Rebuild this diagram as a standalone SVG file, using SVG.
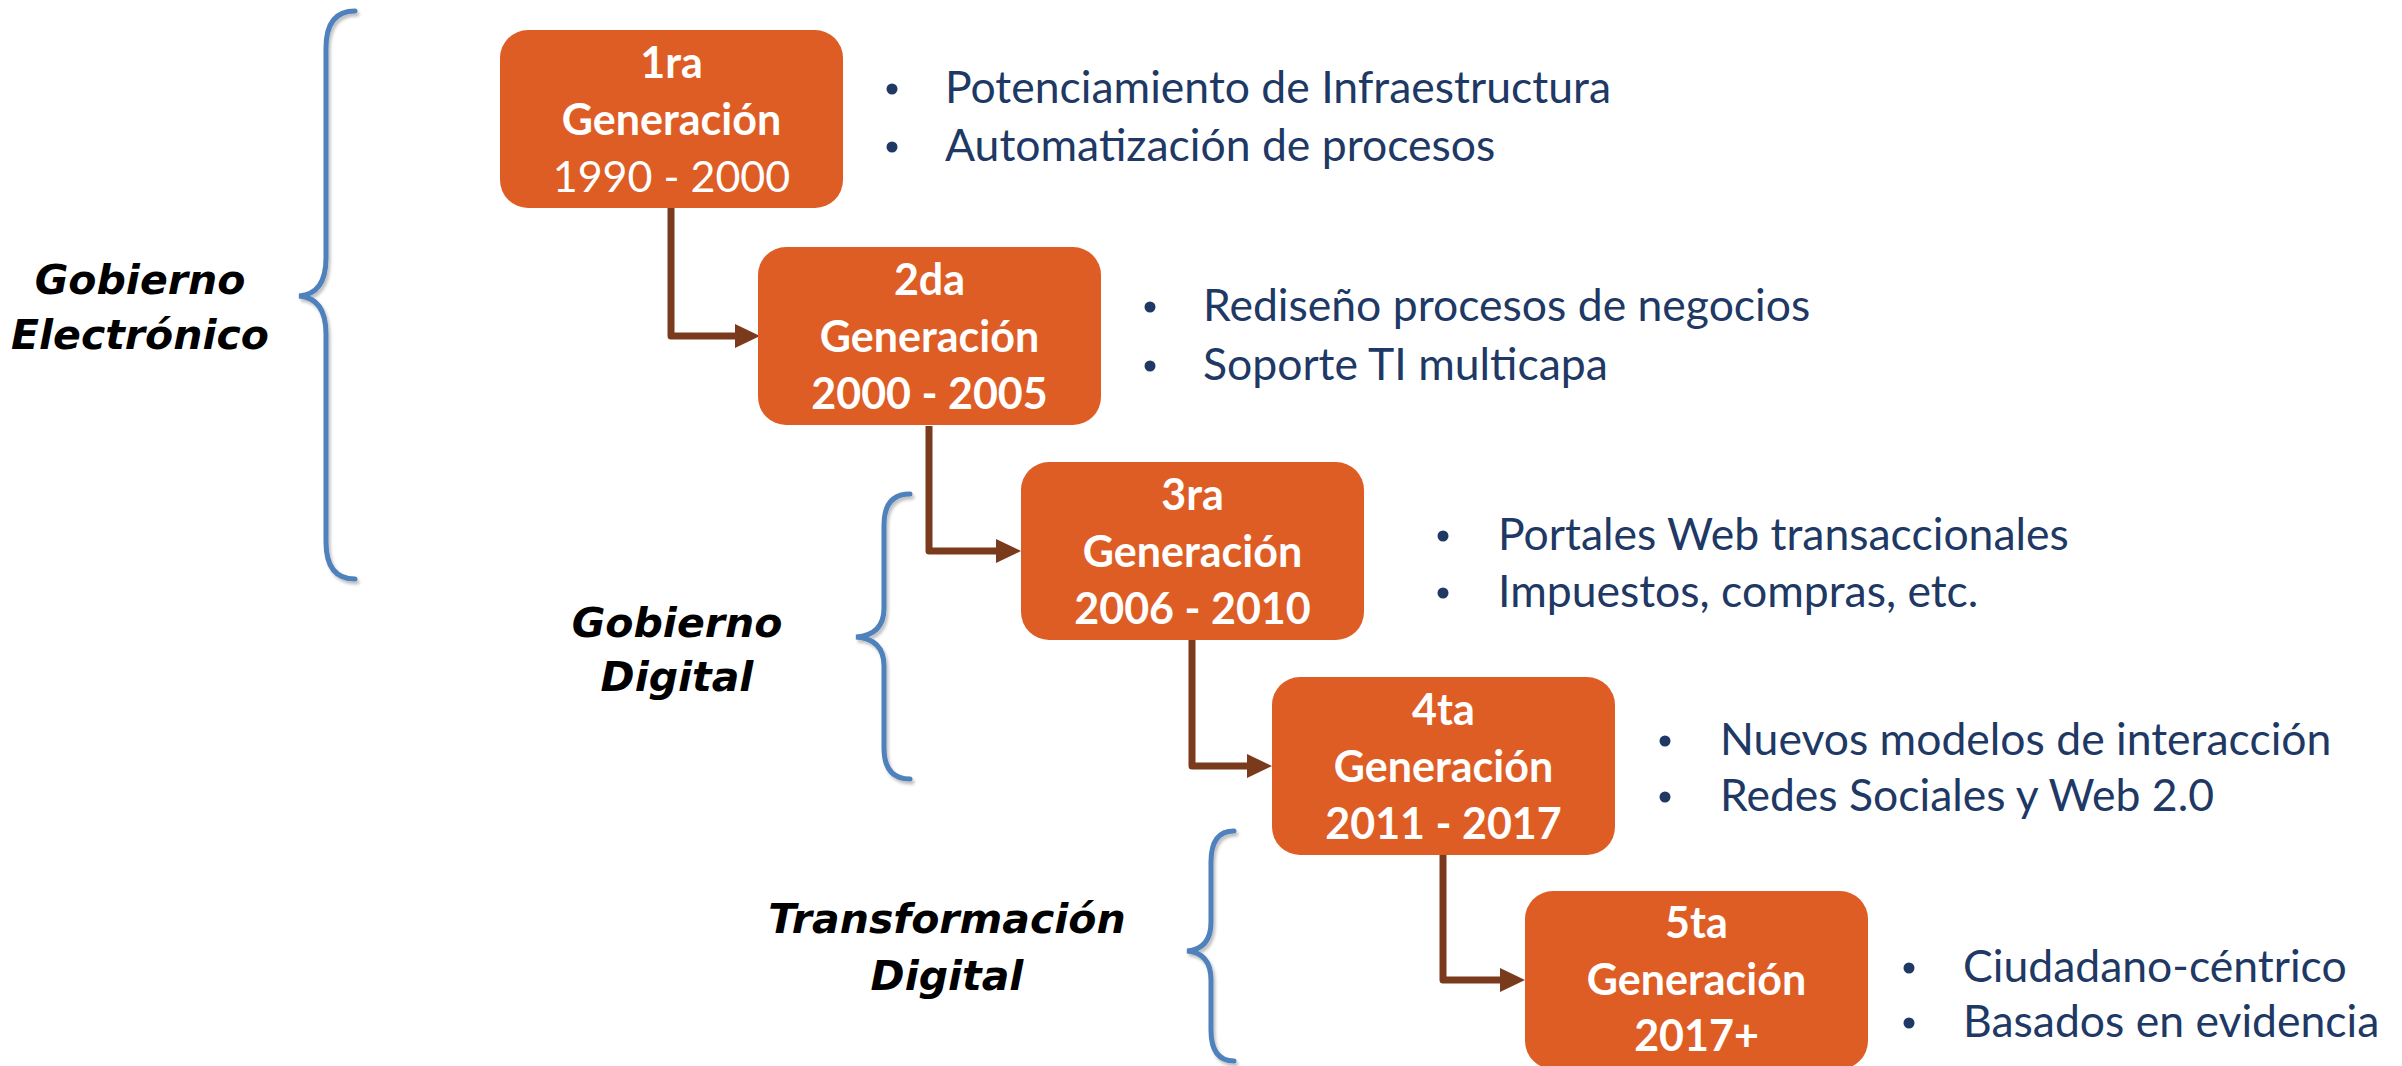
<svg xmlns="http://www.w3.org/2000/svg" width="2402" height="1066" viewBox="0 0 2402 1066">
<defs>
<style>
.box{fill:#DE5D25;}
.bt{font-family:Lato,"Liberation Sans",sans-serif;font-weight:bold;font-size:43px;fill:#FFFFFF;text-anchor:middle;}
.btr{font-weight:normal;}
.bl{font-family:Lato,"Liberation Sans",sans-serif;font-size:44.5px;fill:#203864;}
.dot{fill:#203864;}
.grp{font-family:"DejaVu Sans",sans-serif;font-weight:bold;font-style:italic;font-size:41px;fill:#000000;text-anchor:middle;}
.brace{fill:none;stroke:#4F81BD;stroke-width:5;stroke-linecap:round;filter:url(#sh);}
.conn{fill:none;stroke:#7A3B1C;stroke-width:7;stroke-linejoin:round;marker-end:url(#arr);}
</style>
<marker id="arr" markerWidth="26" markerHeight="26" refX="1" refY="13" orient="auto" markerUnits="userSpaceOnUse" viewBox="0 0 26 26">
<path d="M0,1 L25,13 L0,25 Z" fill="#7A3B1C"/>
</marker>
<filter id="sh" x="-50%" y="-10%" width="200%" height="120%">
<feDropShadow dx="2" dy="3" stdDeviation="1.5" flood-color="#000" flood-opacity="0.25"/>
</filter>
</defs>
<rect width="2402" height="1066" fill="#FFFFFF"/>

<g id="connectors">
<path class="conn" d="M671,208 L671,336 L736,336"/>
<path class="conn" d="M929,426 L929,551 L997,551"/>
<path class="conn" d="M1192,640 L1192,766 L1248,766"/>
<path class="conn" d="M1443,855 L1443,980 L1501,980"/>
</g>

<g id="brace-electronico">
<path class="brace" d="M355,11 Q326,11 326,48 L326,258 Q326,294 299,296 Q326,298 326,334 L326,542 Q326,579 355,579"/>
<text class="grp" x="140" y="294">Gobierno</text>
<text class="grp" x="140" y="349">Electrónico</text>
</g>

<g id="brace-digital">
<path class="brace" d="M910,494 Q884,494 884,525 L884,608 Q884,635 856,637 Q884,639 884,666 L884,748 Q884,779 910,779"/>
<text class="grp" x="677" y="637">Gobierno</text>
<text class="grp" x="677" y="691">Digital</text>
</g>

<g id="brace-transformacion">
<path class="brace" d="M1234,831 Q1211,831 1211,862 L1211,922 Q1211,949 1187,951 Q1211,953 1211,980 L1211,1030 Q1211,1061 1234,1061"/>
<text class="grp" x="947" y="933">Transformación</text>
<text class="grp" x="947" y="990">Digital</text>
</g>

<g id="gen1">
<rect class="box" x="500" y="30" width="343" height="178" rx="28"/>
<text class="bt" x="671.5" y="78">1ra</text>
<text class="bt" x="671.5" y="135">Generación</text>
<text class="bt btr" x="671.5" y="192">1990 - 2000</text>
<circle class="dot" cx="892" cy="89" r="5.5"/>
<text class="bl" x="945" y="103">Potenciamiento de Infraestructura</text>
<circle class="dot" cx="892" cy="147" r="5.5"/>
<text class="bl" x="945" y="161">Automatización de procesos</text>
</g>

<g id="gen2">
<rect class="box" x="758" y="247" width="343" height="178" rx="28"/>
<text class="bt" x="929.5" y="295">2da</text>
<text class="bt" x="929.5" y="352">Generación</text>
<text class="bt" x="929.5" y="409">2000 - 2005</text>
<circle class="dot" cx="1150" cy="307" r="5.5"/>
<text class="bl" x="1203" y="321">Rediseño procesos de negocios</text>
<circle class="dot" cx="1150" cy="366" r="5.5"/>
<text class="bl" x="1203" y="380">Soporte TI multicapa</text>
</g>

<g id="gen3">
<rect class="box" x="1021" y="462" width="343" height="178" rx="28"/>
<text class="bt" x="1192.5" y="510">3ra</text>
<text class="bt" x="1192.5" y="567">Generación</text>
<text class="bt" x="1192.5" y="624">2006 - 2010</text>
<circle class="dot" cx="1443" cy="536" r="5.5"/>
<text class="bl" x="1498" y="550">Portales Web transaccionales</text>
<circle class="dot" cx="1443" cy="593" r="5.5"/>
<text class="bl" x="1498" y="607">Impuestos, compras, etc.</text>
</g>

<g id="gen4">
<rect class="box" x="1272" y="677" width="343" height="178" rx="28"/>
<text class="bt" x="1443.5" y="725">4ta</text>
<text class="bt" x="1443.5" y="782">Generación</text>
<text class="bt" x="1443.5" y="839">2011 - 2017</text>
<circle class="dot" cx="1665" cy="741" r="5.5"/>
<text class="bl" x="1720" y="755">Nuevos modelos de interacción</text>
<circle class="dot" cx="1665" cy="797" r="5.5"/>
<text class="bl" x="1720" y="811">Redes Sociales y Web 2.0</text>
</g>

<g id="gen5">
<rect class="box" x="1525" y="891" width="343" height="178" rx="28"/>
<text class="bt" x="1696.5" y="938">5ta</text>
<text class="bt" x="1696.5" y="995">Generación</text>
<text class="bt" x="1696.5" y="1051">2017+</text>
<circle class="dot" cx="1909" cy="968" r="5.5"/>
<text class="bl" x="1963" y="982">Ciudadano-céntrico</text>
<circle class="dot" cx="1909" cy="1023" r="5.5"/>
<text class="bl" x="1963" y="1037">Basados en evidencia</text>
</g>
</svg>
